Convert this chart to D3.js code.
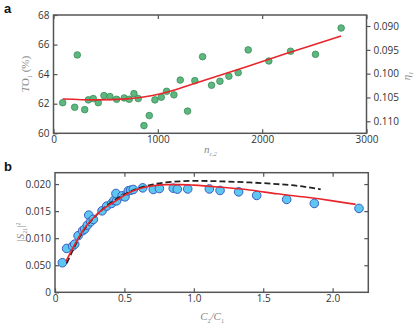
<html>
<head>
<script src="https://cdn.jsdelivr.net/npm/d3@7"></script>
<style>
	body { margin: 0; background: #fff; }
	svg { display: block; }
	.tick text { font-family: 'Open Sans', sans-serif; font-size: 10px; fill: #333; }
	.tick line { stroke: #555; stroke-width: 1.2; }
	.frame { fill: none; stroke: #555; stroke-width: 1.5; }
	.title { font-family: 'Liberation Serif', serif; font-style: italic; fill: #888; font-size: 11px; }
	.panel { font-family: 'Liberation Sans', sans-serif; font-weight: bold; font-size: 13px; fill: #111; }
</style>
</head>
<body>
<svg id="chart" width="416" height="327"></svg>
<script>
	// panel a: green points, n_c2 vs T_O1
	var aX = [88, 203, 228, 299, 334, 381, 429, 484, 541, 605, 678, 726, 771, 812, 867, 918, 972, 1033, 1084, 1154, 1215, 1285, 1355, 1429, 1515, 1595, 1681, 1770, 1866, 2064, 2272, 2511, 2757];
	var aY = [62.07, 61.76, 65.3, 61.6, 62.26, 62.35, 62.07, 62.55, 62.48, 62.3, 62.39, 62.3, 62.68, 62.35, 60.52, 61.2, 62.26, 62.44, 62.84, 62.6, 63.6, 61.5, 63.56, 65.18, 63.25, 63.52, 63.86, 64.1, 65.64, 64.89, 65.55, 65.34, 67.12];
	// red fit in panel a
	var aFitX = [88, 400, 700, 950, 1200, 1500, 1850, 2300, 2757];
	var aFitY = [62.32, 62.26, 62.33, 62.56, 63.02, 63.7, 64.5, 65.55, 66.58];

	var aXTicks = [0, 1000, 2000, 3000];
	var aYTicks = [60, 62, 64, 66, 68];
	var aRightTicks = [0.090, 0.095, 0.100, 0.105, 0.110];

	// panel b: blue points, C2/C1 vs |S21|^2
	var bX = [0.053, 0.084, 0.127, 0.142, 0.166, 0.199, 0.214, 0.233, 0.243, 0.257, 0.276, 0.339, 0.372, 0.408, 0.425, 0.444, 0.439, 0.483, 0.504, 0.528, 0.545, 0.564, 0.632, 0.708, 0.752, 0.852, 0.881, 0.956, 1.112, 1.189, 1.323, 1.453, 1.669, 1.868, 2.19];
	var bY = [0.00546, 0.0081, 0.00854, 0.0089, 0.01045, 0.01137, 0.01168, 0.0124, 0.01426, 0.01303, 0.01347, 0.01506, 0.01592, 0.01642, 0.01697, 0.0169, 0.01826, 0.01782, 0.01764, 0.01875, 0.01887, 0.019, 0.0193, 0.019, 0.01918, 0.01924, 0.01906, 0.0191, 0.0191, 0.01882, 0.01856, 0.0179, 0.01716, 0.01642, 0.0155];
	var bFitX = [0.079, 0.15, 0.204, 0.324, 0.444, 0.564, 0.684, 0.8, 0.9, 1.0, 1.2, 1.4, 1.6, 1.8, 2.0, 2.166];
	var bFitY = [0.0057, 0.0092, 0.0115, 0.0149, 0.017, 0.01875, 0.0196, 0.0199, 0.0199, 0.0198, 0.0194, 0.0189, 0.0182, 0.0176, 0.0169, 0.01624];
	var bDashX = [0.084, 0.2, 0.3, 0.4, 0.5, 0.6, 0.7, 0.8, 0.9, 1.0, 1.2, 1.4, 1.6, 1.8, 1.914];
	var bDashY = [0.00535, 0.0112, 0.0143, 0.0165, 0.0181, 0.0192, 0.0199, 0.0203, 0.0205, 0.0206, 0.0205, 0.0203, 0.02, 0.0195, 0.019];

	var bXTicks = [0, 0.5, 1.0, 1.5, 2.0];
	var bXLabels = ['0', '0.5', '1.0', '1.5', '2.0'];
	var bYTicks = [0, 0.005, 0.010, 0.015, 0.020];
	var bYLabels = ['0', '0.050', '0.010', '0.015', '0.020'];

	var svg = d3.select('#chart');

	function frame(g, x0, y0, x1, y1) {
		g.append('rect').attr('class', 'frame')
			.attr('x', x0).attr('y', y0)
			.attr('width', x1 - x0).attr('height', y1 - y0);
	}

	function clean(sel) {
		sel.select('.domain').remove();
	}

	// ---------- panel a ----------
	var ax = d3.scaleLinear().domain([0, 3000]).range([53.5, 366.5]);
	var ay = d3.scaleLinear().domain([60, 68]).range([133.3, 15]);
	var ayR = d3.scaleLinear().domain([0.08769, 0.11252]).range([15, 133.3]);

	var ga = svg.append('g');

	ga.append('g').attr('transform', 'translate(0,133.3)')
		.call(d3.axisBottom(ax).tickValues(aXTicks).tickFormat(d3.format('d')).tickSize(-4).tickPadding(3))
		.call(clean);
	ga.append('g').attr('transform', 'translate(0,15)')
		.call(d3.axisTop(ax).tickValues(aXTicks).tickFormat('').tickSize(-4))
		.call(clean);
	ga.append('g').attr('transform', 'translate(53.5,0)')
		.call(d3.axisLeft(ay).tickValues(aYTicks).tickFormat(d3.format('d')).tickSize(-4).tickPadding(4))
		.call(clean);
	ga.append('g').attr('transform', 'translate(366.5,0)')
		.call(d3.axisRight(ayR).tickValues(aRightTicks).tickFormat(d3.format('.3f')).tickSize(4).tickPadding(3))
		.call(clean);
	frame(ga, 53.5, 15, 366.5, 133.3);

	var aLine = d3.line().curve(d3.curveNatural)
		.x(function(d){ return ax(d[0]); })
		.y(function(d){ return ay(d[1]); });

	ga.selectAll('circle.pa')
		.data(aX.map(function(v, i){ return [v, aY[i]]; }))
		.enter().append('circle')
		.attr('class', 'pa')
		.attr('cx', function(d){ return ax(d[0]); })
		.attr('cy', function(d){ return ay(d[1]); })
		.attr('r', 3.3)
		.attr('fill', '#5cb87e')
		.attr('stroke', '#3b8c5a')
		.attr('stroke-width', 0.8);

	ga.append('path')
		.datum(aFitX.map(function(v, i){ return [v, aFitY[i]]; }))
		.attr('d', aLine)
		.attr('fill', 'none')
		.attr('stroke', '#e8252b')
		.attr('stroke-width', 1.6);

	var tA = ga.append('text').attr('class', 'title')
		.attr('transform', 'translate(29,74) rotate(-90)')
		.attr('text-anchor', 'middle');
	tA.append('tspan').text('T');
	tA.append('tspan').attr('font-style', 'normal').text('O');
	tA.append('tspan').attr('dy', 3).attr('font-size', 6).attr('font-style', 'normal').text('1');
	tA.append('tspan').attr('dy', -3).attr('font-style', 'normal').text(' (%)');

	var tEta = ga.append('text').attr('class', 'title')
		.attr('transform', 'translate(410,76) rotate(-90)')
		.attr('text-anchor', 'middle');
	tEta.append('tspan').text('η');
	tEta.append('tspan').attr('dy', 3).attr('font-size', 6).text('1');

	var tN = ga.append('text').attr('class', 'title')
		.attr('x', 204).attr('y', 153);
	tN.append('tspan').text('n');
	tN.append('tspan').attr('dy', 3).attr('font-size', 6).text('c,2');

	ga.append('text').attr('class', 'panel').attr('x', 4).attr('y', 13).text('a');

	// ---------- panel b ----------
	var bx = d3.scaleLinear().domain([0, 2.257]).range([55, 368.3]);
	var by = d3.scaleLinear().domain([0, 0.0221]).range([292.3, 172.7]);

	var gb = svg.append('g');

	gb.append('g').attr('transform', 'translate(0,292.3)')
		.call(d3.axisBottom(bx).tickValues(bXTicks).tickFormat(function(d, i){ return bXLabels[i]; }).tickSize(-4).tickPadding(3))
		.call(clean);
	gb.append('g').attr('transform', 'translate(0,172.7)')
		.call(d3.axisTop(bx).tickValues(bXTicks.slice(1)).tickFormat('').tickSize(-4))
		.call(clean);
	gb.append('g').attr('transform', 'translate(55,0)')
		.call(d3.axisLeft(by).tickValues(bYTicks).tickFormat(function(d, i){ return bYLabels[i]; }).tickSize(-4).tickPadding(4))
		.call(clean);
	gb.append('g').attr('transform', 'translate(368.3,0)')
		.call(d3.axisRight(by).tickValues(bYTicks.slice(1)).tickFormat('').tickSize(-4))
		.call(clean);
	frame(gb, 55, 172.7, 368.3, 292.3);

	var bLine = d3.line().curve(d3.curveMonotoneX)
		.x(function(d){ return bx(d[0]); })
		.y(function(d){ return by(d[1]); });

	gb.selectAll('circle.pb')
		.data(bX.map(function(v, i){ return [v, bY[i]]; }))
		.enter().append('circle')
		.attr('class', 'pb')
		.attr('cx', function(d){ return bx(d[0]); })
		.attr('cy', function(d){ return by(d[1]); })
		.attr('r', 4.3)
		.attr('fill', '#5cc8f0')
		.attr('stroke', '#3c5cc4')
		.attr('stroke-width', 1);

	gb.append('path')
		.datum(bDashX.map(function(v, i){ return [v, bDashY[i]]; }))
		.attr('d', bLine)
		.attr('fill', 'none')
		.attr('stroke', '#222')
		.attr('stroke-width', 1.8)
		.attr('stroke-dasharray', '6,3');

	gb.append('path')
		.datum(bFitX.map(function(v, i){ return [v, bFitY[i]]; }))
		.attr('d', bLine)
		.attr('fill', 'none')
		.attr('stroke', '#e8252b')
		.attr('stroke-width', 1.6);

	var tS = gb.append('text').attr('class', 'title')
		.attr('transform', 'translate(24,232) rotate(-90)')
		.attr('text-anchor', 'middle');
	tS.append('tspan').attr('font-style', 'normal').text('|');
	tS.append('tspan').text('S');
	tS.append('tspan').attr('dy', 3).attr('font-size', 6).attr('font-style', 'normal').text('21');
	tS.append('tspan').attr('dy', -3).attr('font-style', 'normal').text('|');
	tS.append('tspan').attr('dy', -4).attr('font-size', 6).attr('font-style', 'normal').text('2');

	var tC = gb.append('text').attr('class', 'title')
		.attr('x', 212).attr('y', 320).attr('text-anchor', 'middle');
	tC.append('tspan').text('C');
	tC.append('tspan').attr('dy', 3).attr('font-size', 6).attr('font-style', 'normal').text('2');
	tC.append('tspan').attr('dy', -3).text('/C');
	tC.append('tspan').attr('dy', 3).attr('font-size', 6).attr('font-style', 'normal').text('1');

	gb.append('text').attr('class', 'panel').attr('x', 4).attr('y', 171).text('b');
</script>
</body>
</html>
